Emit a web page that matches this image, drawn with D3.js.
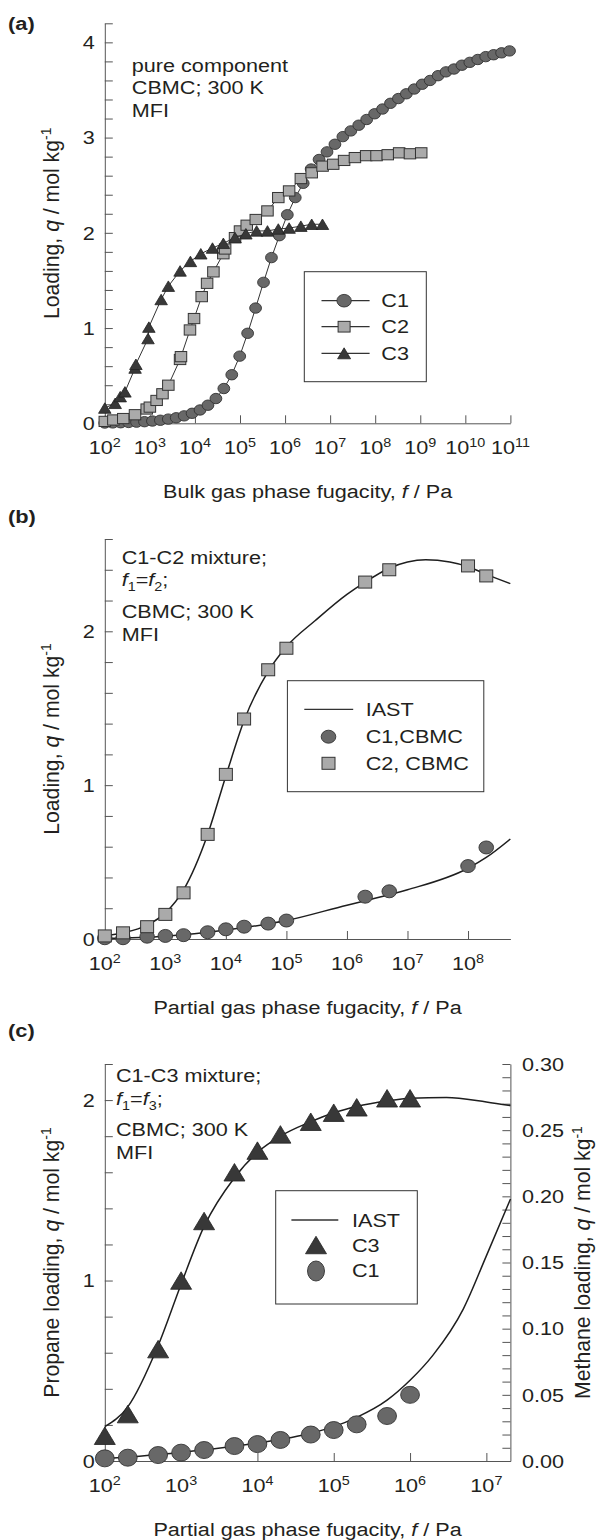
<!DOCTYPE html>
<html><head><meta charset="utf-8">
<script src="https://cdn.jsdelivr.net/npm/d3@7"></script>
<style>
body{margin:0;background:#fff;}
text{font-family:"Liberation Sans", Arial, Helvetica, sans-serif;}
</style></head><body>
<script>
// ---------------- DATA ----------------
// Panel (a): pure component isotherms (fugacity Pa, loading mol/kg)
const aC1f = [100,150,225,338,506,759,1139,1709,2563,3844,5767,8650,12975,19462,29193,43789,65684,98526,147789,221684,332526,498789,748183,1.122e6,1.683e6,2.525e6,3.788e6,5.682e6,8.523e6,1.278e7,1.918e7,2.876e7,4.315e7,6.472e7,9.708e7,1.456e8,2.184e8,3.276e8,4.914e8,7.371e8,1.106e9,1.658e9,2.488e9,3.731e9,5.597e9,8.396e9,1.259e10,1.889e10,2.834e10,4.25e10,6.376e10,9.564e10];
const aC1q = [0.003,0.004,0.006,0.009,0.012,0.017,0.024,0.032,0.044,0.058,0.078,0.105,0.14,0.19,0.26,0.365,0.51,0.705,0.945,1.21,1.48,1.74,1.97,2.19,2.37,2.52,2.67,2.77,2.85,2.93,3.01,3.07,3.13,3.19,3.25,3.30,3.36,3.41,3.46,3.51,3.56,3.60,3.65,3.69,3.72,3.76,3.79,3.82,3.85,3.87,3.89,3.91];
const aC2f = [100,155,257,468,851,1000,1413,1905,2570,4677,4900,7762,9550,14125,18620,25700,42660,46770,77600,1e5,141000,224000,407000,708000,1.23e6,2.24e6,3.9e6,6.8e6,1.17e7,2.04e7,3.55e7,6.3e7,1.07e8,1.9e8,3.4e8,5.9e8,1.05e9];
const aC2q = [0.02,0.035,0.05,0.09,0.15,0.17,0.24,0.31,0.40,0.67,0.70,0.98,1.10,1.33,1.47,1.59,1.78,1.83,1.95,2.02,2.08,2.14,2.23,2.37,2.44,2.57,2.63,2.70,2.72,2.76,2.79,2.81,2.81,2.82,2.84,2.83,2.84];
const aC3f = [100,170,220,280,470,490,910,950,1780,2570,4680,7940,13500,24500,42700,77600,135000,234000,407000,708000,1.23e6,2.24e6,3.9e6,6.76e6];
const aC3q = [0.16,0.21,0.28,0.33,0.58,0.62,0.89,1.01,1.30,1.44,1.60,1.70,1.78,1.84,1.89,1.95,1.99,2.02,2.02,2.04,2.05,2.07,2.09,2.09];
const aXExp = [2,3,4,5,6,7,8,9,10,11];
const aYLab = [0,1,2,3,4];

// Panel (b): C1-C2 mixture
const bFug = [100,200,500,1e3,2e3,5e3,1e4,2e4,5e4,1e5,2e6,5e6,1e8,2e8];
const bC1q = [0.005,0.005,0.015,0.02,0.025,0.044,0.063,0.08,0.10,0.12,0.275,0.31,0.474,0.595];
const bC2q = [0.02,0.04,0.08,0.16,0.30,0.68,1.07,1.43,1.75,1.89,2.32,2.40,2.425,2.36];
const bIastC1f = [1e2,1e3,1e4,1e5,1e6,2e6,1e7,1e8,2e8,5e8];
const bIastC1q = [0.004,0.018,0.058,0.12,0.22,0.249,0.32,0.46,0.53,0.65];
const bIastC2f = [1e2,2e2,5e2,1e3,2e3,5e3,1e4,2e4,5e4,1e5,3e5,1e6,2e6,5e6,1e7,2e7,5e7,1e8,2e8,5e8];
const bIastC2q = [0.02,0.04,0.09,0.17,0.32,0.68,1.06,1.42,1.74,1.90,2.07,2.24,2.32,2.41,2.45,2.465,2.45,2.42,2.37,2.31];
const bXExp = [2,3,4,5,6,7,8];
const bYLab = [0,1,2];

// Panel (c): C1-C3 mixture
const cFug = [100,200,500,1e3,2e3,5e3,1e4,2e4,5e4,1e5,2e5,5e5,1e6];
const cC3q = [0.14,0.26,0.62,1.0,1.33,1.60,1.72,1.81,1.88,1.93,1.96,2.01,2.01];
const cC1q = [0.002,0.0025,0.0045,0.0063,0.0083,0.0113,0.0128,0.0159,0.020,0.0234,0.0277,0.034,0.050];
const cIastC3f = [1e2,2e2,5e2,1e3,2e3,5e3,1e4,2e4,5e4,1e5,2e5,5e5,1e6,3e6,1e7,2.07e7];
const cIastC3q = [0.19,0.30,0.64,0.98,1.30,1.57,1.71,1.80,1.88,1.93,1.965,1.995,2.01,2.015,1.99,1.97];
const cIastC1f = [1e2,1e3,1e4,5e4,1e5,2e5,5e5,1e6,2e6,5e6,1e7,2.07e7];
const cIastC1q = [0.0018,0.0065,0.0135,0.021,0.026,0.033,0.046,0.061,0.080,0.115,0.155,0.198];
const cXExp = [2,3,4,5,6,7];
const cYLab = [0,1,2];
const cYRLab = [0,0.05,0.10,0.15,0.20,0.25,0.30];

// ---------------- DRAWING ----------------
const SX = 1.15, FS = 18.8, SFS = 12.5, RFS = 21.2;
const INK = "#231f20", AXC = "#555";
const C_CIR = "#686868", C_SQ = "#aaaaaa", C_TRI = "#383838", C_EDGE = "#333";
const svg = d3.select("body").append("svg").attr("width",610).attr("height",1540);

function rich(x, y, parts, opt={}) {
  const sx = opt.rot ? 1 : SX;
  const t = svg.append("text")
    .attr("transform", `translate(${x},${y}) scale(${sx},1)` + (opt.rot ? " rotate(-90)" : ""))
    .attr("text-anchor", opt.anchor || "start")
    .attr("font-size", opt.size || FS)
    .attr("font-weight", opt.weight || "normal")
    .attr("fill", INK);
  let cur = 0;
  const ss = opt.rot ? 14 : SFS;
  parts.forEach(p => {
    if (typeof p === "string") p = {t:p};
    const off = p.sup ? (opt.rot ? -8 : -7) : (p.sub ? 5 : 0);
    const s = t.append("tspan").text(p.t);
    if (off !== cur) s.attr("dy", off - cur);
    cur = off;
    if (p.i) s.attr("font-style","italic");
    if (p.sup || p.sub) s.attr("font-size", ss);
  });
  return t;
}
function circ(g, cx, cy, rx, ry){ g.append("ellipse").attr("cx",cx).attr("cy",cy).attr("rx",rx).attr("ry",ry).attr("fill",C_CIR).attr("stroke",C_EDGE).attr("stroke-width",0.9); }
function sqr(g, cx, cy, w, h){ g.append("rect").attr("x",cx-w/2).attr("y",cy-h/2).attr("width",w).attr("height",h).attr("fill",C_SQ).attr("stroke",C_EDGE).attr("stroke-width",1); }
function tri(g, cx, cy, w, h){ g.append("path").attr("d",`M${cx},${cy-h/2}L${cx+w/2},${cy+h/2}L${cx-w/2},${cy+h/2}Z`).attr("fill",C_TRI).attr("stroke","#222").attr("stroke-width",0.8); }

function styleAxis(sel){ sel.selectAll("path,line").attr("stroke",AXC).attr("stroke-width",1); sel.selectAll("text").remove(); }

function xAxis(x, y0, exps){
  const g = svg.append("g").attr("transform",`translate(0,${y0})`)
    .call(d3.axisBottom(x).tickValues(exps.map(e=>Math.pow(10,e))).tickSizeInner(-8).tickSizeOuter(0).tickFormat(""));
  styleAxis(g);
  exps.forEach(e => rich(x(Math.pow(10,e)), y0+30.5, ["10", {t:String(e), sup:true}], {anchor:"middle"}));
}
function yAxisL(y, x0, step, labels){
  const d = y.domain();
  const ticks = d3.range(0, Math.round((d[1]-d[0])/step)+1).map(i=>d[0]+i*step);
  const g = svg.append("g").attr("transform",`translate(${x0},0)`)
    .call(d3.axisLeft(y).tickValues(ticks).tickSizeInner(-8).tickSizeOuter(0).tickFormat(""));
  styleAxis(g);
  labels.forEach(v => rich(x0-10, y(v)+6.7, [String(v)], {anchor:"end"}));
}
function yAxisR(y, x0, step, labels){
  const d = y.domain();
  const ticks = d3.range(0, Math.round((d[1]-d[0])/step)+1).map(i=>d[0]+i*step);
  const g = svg.append("g").attr("transform",`translate(${x0},0)`)
    .call(d3.axisRight(y).tickValues(ticks).tickSizeInner(-8).tickSizeOuter(0).tickFormat(""));
  styleAxis(g);
  labels.forEach(v => rich(x0+11.5, y(v)+6.7, [d3.format(".2f")(v)], {anchor:"start"}));
}
function curve(x, y, fs, qs, w){
  svg.append("path").datum(fs.map((f,i)=>[f,qs[i]]))
    .attr("d", d3.line().x(d=>x(d[0])).y(d=>y(d[1])).curve(d3.curveMonotoneX))
    .attr("fill","none").attr("stroke","#1e1e1e").attr("stroke-width",w||1.5);
}
function polyline(x, y, fs, qs){
  svg.append("path").datum(fs.map((f,i)=>[f,qs[i]]))
    .attr("d", d3.line().x(d=>x(d[0])).y(d=>y(d[1])))
    .attr("fill","none").attr("stroke","#333").attr("stroke-width",1);
}
function ytitle(x, yc, lead){
  rich(x, yc, [lead, {t:"q", i:true}, " / mol kg", {t:"-1", sup:true}], {anchor:"middle", rot:true, size:RFS});
}
function xtitle(xc, y, lead){
  rich(xc, y, [lead, {t:"f", i:true}, " / Pa"], {anchor:"middle"});
}
function legendBox(x, y, w, h){
  svg.append("rect").attr("x",x).attr("y",y).attr("width",w).attr("height",h).attr("fill","#fff").attr("stroke","#333").attr("stroke-width",1);
}
function legLine(x1, x2, y){
  svg.append("line").attr("x1",x1).attr("x2",x2).attr("y1",y).attr("y2",y).attr("stroke","#333").attr("stroke-width",1.3);
}

// ===== Panel (a) =====
const xa = d3.scaleLog().domain([1e2,1e11]).range([104.8,510.4]);
const ya = d3.scaleLinear().domain([0,4.2]).range([423.3,23.3]);
rich(8, 30, ["(a)"], {weight:"bold", size:19});
xAxis(xa, 423.3, aXExp);
yAxisL(ya, 104.8, 0.2, aYLab);
ytitle(58.5, ya(2.1), "Loading, ");
xtitle(307.6, 497.5, "Bulk gas phase fugacity, ");
rich(131.8, 71.7, ["pure component"]);
rich(131.8, 94, ["CBMC; 300 K"]);
rich(131.8, 116.7, ["MFI"]);
polyline(xa, ya, aC1f, aC1q);
aC1f.forEach((f,i)=>circ(svg, xa(f), ya(aC1q[i]), 5.9, 5.2));
polyline(xa, ya, aC2f, aC2q);
aC2f.forEach((f,i)=>sqr(svg, xa(f), ya(aC2q[i]), 11.5, 10.2));
polyline(xa, ya, aC3f, aC3q);
aC3f.forEach((f,i)=>tri(svg, xa(f), ya(aC3q[i]), 12.5, 10.5));
legendBox(304.3, 271.7, 122, 110);
legLine(321.5, 369.6, 300.7); circ(svg, 344.1, 300.7, 7.2, 6.3); rich(381.3, 307.4, ["C1"]);
legLine(321.5, 369.6, 326.7); sqr(svg, 344.1, 326.7, 12, 10.7); rich(381.3, 333.4, ["C2"]);
legLine(321.5, 369.6, 353.3); tri(svg, 344.1, 353.3, 13, 11); rich(381.3, 360, ["C3"]);

// ===== Panel (b) =====
const xb = d3.scaleLog().domain([1e2, Math.pow(10,8.7)]).range([104.8,510.4]);
const yb = d3.scaleLinear().domain([0,2.6]).range([939,539]);
rich(8, 523, ["(b)"], {weight:"bold", size:19});
xAxis(xb, 939, bXExp);
yAxisL(yb, 104.8, 0.2, bYLab);
ytitle(58.5, yb(1.3), "Loading, ");
xtitle(307.6, 1013.5, "Partial gas phase fugacity, ");
rich(121.7, 564, ["C1-C2 mixture;"]);
rich(121.7, 586, [{t:"f",i:true},{t:"1",sub:true},"=",{t:"f",i:true},{t:"2",sub:true},";"]);
rich(121.7, 618, ["CBMC; 300 K"]);
rich(121.7, 641, ["MFI"]);
curve(xb, yb, bIastC2f, bIastC2q, 1.5);
curve(xb, yb, bIastC1f, bIastC1q, 1.5);
bFug.forEach((f,i)=>circ(svg, xb(f), yb(bC1q[i]), 7.3, 6.5));
bFug.forEach((f,i)=>sqr(svg, xb(f), yb(bC2q[i]), 13, 12));
legendBox(287.4, 680.7, 196.4, 111);
legLine(304.3, 353.2, 709.3); rich(365.7, 716, ["IAST"]);
circ(svg, 328.5, 736.7, 7.3, 6.5); rich(365.7, 743.4, ["C1,CBMC"]);
sqr(svg, 328.5, 763.3, 13, 12); rich(365.7, 770, ["C2, CBMC"]);

// ===== Panel (c) =====
const xc = d3.scaleLog().domain([1e2, Math.pow(10,7.315)]).range([104.8,510.4]);
const ycL = d3.scaleLinear().domain([0,2.2]).range([1461,1064]);
const ycR = d3.scaleLinear().domain([0,0.30]).range([1461,1064]);
rich(8, 1037, ["(c)"], {weight:"bold", size:19});
xAxis(xc, 1461, cXExp);
yAxisL(ycL, 104.8, 0.2, cYLab);
yAxisR(ycR, 510.4, 0.01, cYRLab);
ytitle(58.5, ycL(1.1), "Propane loading, ");
ytitle(590, ycL(1.1), "Methane loading, ");
xtitle(307.6, 1535.5, "Partial gas phase fugacity, ");
rich(116, 1082, ["C1-C3 mixture;"]);
rich(116, 1105, [{t:"f",i:true},{t:"1",sub:true},"=",{t:"f",i:true},{t:"3",sub:true},";"]);
rich(116, 1136, ["CBMC; 300 K"]);
rich(116, 1159, ["MFI"]);
curve(xc, ycL, cIastC3f, cIastC3q, 1.5);
curve(xc, ycR, cIastC1f, cIastC1q, 1.5);
cFug.forEach((f,i)=>tri(svg, xc(f), ycL(cC3q[i]), 21, 17.5));
cFug.forEach((f,i)=>circ(svg, xc(f), ycR(cC1q[i]), 9.4, 8.5));
legendBox(275.7, 1190.7, 141.6, 113.3);
legLine(291.4, 338.3, 1220); rich(352, 1226.7, ["IAST"]);
tri(svg, 316, 1245, 21, 17.5); rich(352, 1251.7, ["C3"]);
circ(svg, 316, 1271, 8.5, 10); rich(352, 1276.7, ["C1"]);
</script>
</body></html>
